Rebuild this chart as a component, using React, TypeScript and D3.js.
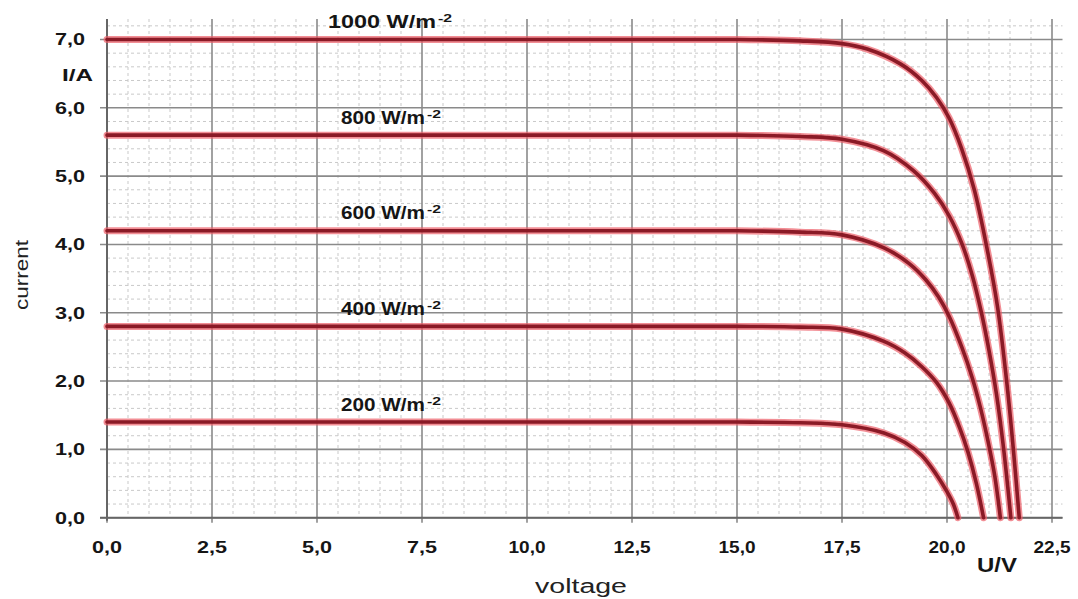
import React from 'react';
import * as d3 from 'd3';

// I-V curves: [voltage V, current A]
const irradiances = [1000, 800, 600, 400, 200];

const curve1000: [number, number][] = [
  [0, 7.0], [10, 7.0], [15, 7.0], [16.5, 6.98], [17.5, 6.94], [18.1, 6.86], [18.9, 6.64],
  [19.4, 6.4], [19.75, 6.15], [20.05, 5.85], [20.35, 5.4], [20.65, 4.8], [20.95, 3.95],
  [21.2, 3.1], [21.42, 2.0], [21.58, 1.0], [21.72, 0],
];
const curve800: [number, number][] = [
  [0, 5.6], [10, 5.6], [15, 5.6], [16.5, 5.58], [17.5, 5.54], [18.5, 5.37], [19.2, 5.08],
  [19.7, 4.75], [20.05, 4.42], [20.35, 4.02], [20.6, 3.55], [20.82, 3.0], [21.0, 2.45],
  [21.18, 1.8], [21.35, 1.0], [21.52, 0],
];
const curve600: [number, number][] = [
  [0, 4.2], [10, 4.2], [15, 4.2], [16.5, 4.18], [17.5, 4.14], [18.5, 3.95], [19.1, 3.72],
  [19.5, 3.48], [19.8, 3.23], [20.05, 2.95], [20.35, 2.5], [20.6, 2.05], [20.8, 1.6],
  [21.0, 1.05], [21.14, 0.6], [21.27, 0],
];
const curve400: [number, number][] = [
  [0, 2.8], [10, 2.8], [15, 2.8], [16.5, 2.79], [17.5, 2.76], [18.5, 2.58], [19.0, 2.41],
  [19.4, 2.21], [19.75, 1.98], [20.05, 1.68], [20.3, 1.32], [20.5, 0.96], [20.7, 0.5], [20.87, 0],
];
const curve200: [number, number][] = [
  [0, 1.4], [10, 1.4], [15, 1.4], [16.5, 1.39], [17.5, 1.36], [18.5, 1.24], [19.0, 1.1],
  [19.4, 0.91], [19.75, 0.63], [20.0, 0.38], [20.15, 0.2], [20.26, 0],
];

const xTicks = [0, 2.5, 5, 7.5, 10, 12.5, 15, 17.5, 20, 22.5];
const yTicks = [0, 1, 2, 3, 4, 5, 6, 7];

const curves = [curve1000, curve800, curve600, curve400, curve200];

const width = 1078;
const height = 599;
const font = '"Liberation Sans", Arial, sans-serif';

const fmt = d3
  .formatLocale({ decimal: ',', thousands: '.', grouping: [3], currency: ['', ''] })
  .format('.1f');

export default function App() {
  const x = d3.scaleLinear().domain([0, 22.75]).range([107, 1062.5]);
  const y = d3.scaleLinear().domain([0, 7.3]).range([517.7, 19]);

  const line = d3
    .line<[number, number]>()
    .x(d => x(d[0]))
    .y(d => y(d[1]))
    .curve(d3.curveCatmullRom.alpha(0.5));

  const minorX = d3.range(0.5, 22.75, 0.5).filter(v => Math.abs(v / 2.5 - Math.round(v / 2.5)) > 1e-6);
  const minorY = d3.range(0.2, 7.3, 0.2).filter(v => Math.abs(v - Math.round(v)) > 1e-6);

  const top = y.range()[1];
  const bottom = y(0);
  const left = x(0);
  const right = x.range()[1];

  return (
    <svg
      width={width}
      height={height}
      style={{ position: 'absolute', left: 0, top: 0, background: '#fff' }}
    >
      {/* minor grid */}
      <g stroke="#c9c9c9" strokeWidth={1} strokeDasharray="3,3">
        {minorX.map(v => (
          <line key={'mx' + v} x1={x(v)} x2={x(v)} y1={top} y2={bottom} />
        ))}
        {minorY.map(v => (
          <line key={'my' + v} x1={left} x2={right} y1={y(v)} y2={y(v)} />
        ))}
      </g>
      {/* major grid */}
      <g stroke="#8a8a8a" strokeWidth={1.6}>
        {xTicks.map(v => (
          <line key={'X' + v} x1={x(v)} x2={x(v)} y1={top} y2={bottom + 5} />
        ))}
        {yTicks.map(v => (
          <line key={'Y' + v} x1={left - 7} x2={right} y1={y(v)} y2={y(v)} />
        ))}
      </g>
      {/* axes */}
      <g stroke="#666" strokeWidth={2}>
        <line x1={left} x2={left} y1={top} y2={bottom + 3} />
        <line x1={left - 7} x2={right} y1={bottom} y2={bottom} />
      </g>

      {/* curves */}
      {curves.map((c, i) => (
        <g key={'c' + i} fill="none" strokeLinecap="round">
          <path d={line(c) ?? ''} stroke="#ec5e68" strokeWidth={7} strokeOpacity={0.7} />
          <path d={line(c) ?? ''} stroke="#8a1a26" strokeWidth={3.6} />
        </g>
      ))}

      {/* curve labels */}
      {irradiances.map((irr, i) => {
        const isc = curves[i][0][1];
        const lx = i === 0 ? 328 : 341;
        const ly = y(isc) - 11.5;
        const main = `${irr} W/m`;
        const mainLen = i === 0 ? 108 : 84;
        return (
          <g key={'l' + irr} fontFamily={font} fontWeight="bold" fill="#151515">
            <text x={lx} y={ly} fontSize={18.5} textLength={mainLen} lengthAdjust="spacingAndGlyphs">
              {main}
            </text>
            <text
              x={lx + mainLen + 2}
              y={ly - 6}
              fontSize={11.5}
              textLength={14}
              lengthAdjust="spacingAndGlyphs"
            >
              -2
            </text>
          </g>
        );
      })}

      {/* y tick labels */}
      <g fontFamily={font} fontWeight="bold" fontSize={16.5} fill="#151515" textAnchor="end">
        {yTicks.map(v => (
          <text
            key={'yt' + v}
            x={85}
            y={y(v) + 6}
            textLength={30}
            lengthAdjust="spacingAndGlyphs"
          >
            {fmt(v)}
          </text>
        ))}
        <text x={93} y={80.7} textLength={31} lengthAdjust="spacingAndGlyphs">
          I/A
        </text>
      </g>

      {/* x tick labels */}
      <g fontFamily={font} fontWeight="bold" fontSize={16.5} fill="#151515" textAnchor="middle">
        {xTicks.map(v => (
          <text
            key={'xt' + v}
            x={x(v)}
            y={553}
            textLength={v >= 10 ? 37 : 30}
            lengthAdjust="spacingAndGlyphs"
          >
            {fmt(v)}
          </text>
        ))}
        <text x={997} y={572} fontSize={20} textLength={40} lengthAdjust="spacingAndGlyphs">
          U/V
        </text>
      </g>

      {/* axis titles */}
      <text
        x={581}
        y={593}
        fontFamily={font}
        fontSize={20}
        fill="#222"
        textAnchor="middle"
        textLength={92}
        lengthAdjust="spacingAndGlyphs"
      >
        voltage
      </text>
      <text
        transform="translate(28,275) rotate(-90)"
        fontFamily={font}
        fontSize={19}
        fill="#222"
        textAnchor="middle"
        textLength={70}
        lengthAdjust="spacingAndGlyphs"
      >
        current
      </text>
    </svg>
  );
}
